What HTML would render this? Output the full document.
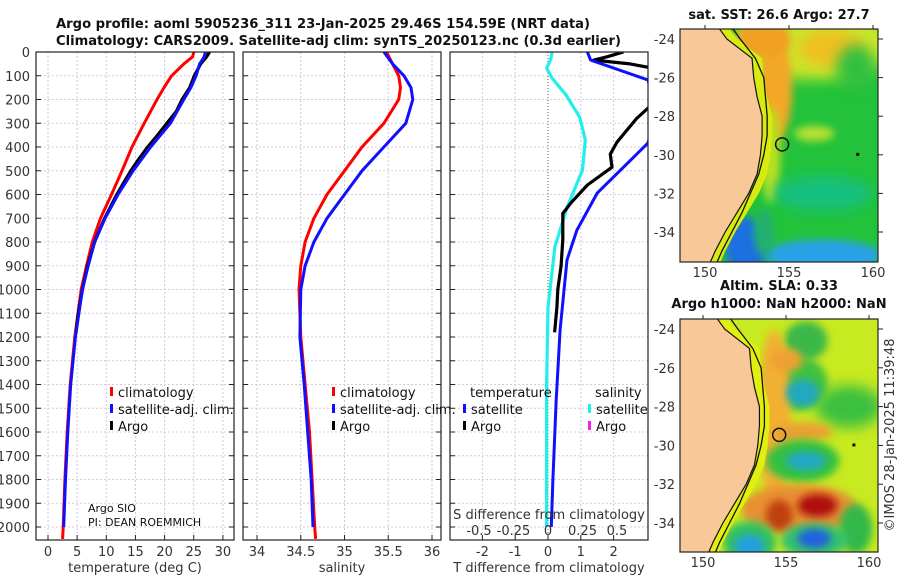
<!DOCTYPE html>
<html><head><meta charset="utf-8">
<style>
html,body{margin:0;padding:0;background:#fff;}
svg{display:block;font-family:"DejaVu Sans","Liberation Sans",sans-serif;}
.tk{font-size:13px;fill:#333;}
.ttl{font-size:13px;font-weight:bold;fill:#111;}
.lg{font-size:13px;fill:#111;}
</style></head>
<body>
<svg id="chart" width="900" height="580" viewBox="0 0 900 580">
<defs>
<filter id="blur1" x="-50%" y="-50%" width="200%" height="200%"><feGaussianBlur stdDeviation="4"/></filter>
<filter id="blur2" x="-50%" y="-50%" width="200%" height="200%"><feGaussianBlur stdDeviation="7"/></filter>
<clipPath id="clipP1"><rect x="36" y="52" width="198" height="488"/></clipPath>
<clipPath id="clipP2"><rect x="243" y="52" width="198" height="488"/></clipPath>
<clipPath id="clipP3"><rect x="450" y="52" width="198" height="488"/></clipPath>
<clipPath id="clipM1"><rect x="680" y="29" width="198" height="233"/></clipPath>
<clipPath id="clipM2"><rect x="680" y="319" width="198" height="233"/></clipPath>
</defs>
<text class="ttl" x="56" y="28" textLength="534" lengthAdjust="spacingAndGlyphs">Argo profile: aoml 5905236_311 23-Jan-2025 29.46S 154.59E (NRT data)</text>
<text class="ttl" x="56" y="45" textLength="565" lengthAdjust="spacingAndGlyphs">Climatology: CARS2009. Satellite-adj clim: synTS_20250123.nc (0.3d earlier)</text>
<g id="root"></g>
</svg>
<script>
// ---------- data ----------
const depthTicks = [0,100,200,300,400,500,600,700,800,900,1000,1100,1200,1300,1400,1500,1600,1700,1800,1900,2000];
const tempTicks = [0,5,10,15,20,25,30];
const salTicks = [34,34.5,35,35.5,36];
const salTickLabels = ["34","34.5","35","35.5","36"];
const tdiffTicks = [-2,-1,0,1,2];
const sdiffTicks = [-0.5,-0.25,0,0.25,0.5];
const sdiffTickLabels = ["-0.5","-0.25","0","0.25","0.5"];

const tClimDepth = [0,20,50,100,150,200,300,400,500,600,700,800,900,1000,1200,1400,1600,1800,2000,2050];
const tClimVal   = [25.0,24.8,23.3,21.2,19.9,18.7,16.5,14.4,12.7,10.9,9.0,7.6,6.6,5.7,4.6,3.8,3.3,2.9,2.6,2.5];
const tSatDepth  = [0,20,50,100,150,200,300,400,500,600,700,800,900,1000,1200,1400,1600,1800,2000];
const tSatVal    = [27.0,26.8,26.0,25.4,24.5,23.3,21.0,17.6,14.6,12.0,9.8,8.0,6.9,5.9,4.7,3.9,3.4,3.0,2.7];
const tArgoDepth = [0,20,50,100,150,200,250,300,350,400,450,500,550,600,700,800,900,1000,1100,1180];
const tArgoVal   = [27.7,27.2,26.2,25.1,24.3,23.0,22.0,20.4,18.8,17.1,15.6,14.2,13.0,11.8,9.7,8.0,6.8,5.9,5.2,4.8];

const sClimDepth = [0,50,100,150,200,300,400,500,600,700,800,900,1000,1200,1400,1600,1800,2000,2050];
const sClimVal   = [35.48,35.55,35.62,35.64,35.62,35.45,35.2,35.0,34.8,34.65,34.55,34.5,34.48,34.5,34.55,34.6,34.63,34.66,34.67];
const sSatDepth  = [0,50,100,150,200,300,400,500,600,700,800,900,1000,1200,1400,1600,1800,2000];
const sSatVal    = [35.45,35.55,35.68,35.76,35.78,35.7,35.45,35.2,35.0,34.8,34.65,34.55,34.5,34.49,34.54,34.58,34.62,34.64];

const dArgoDepth = [0,20,34,50,68,120,230,280,330,380,430,485,560,635,680,790,900,1000,1075,1180];
const dArgoVal   = [2.3,1.8,1.4,2.5,3.2,3.3,3.1,2.7,2.4,2.1,1.9,1.95,1.2,0.7,0.45,0.45,0.4,0.3,0.27,0.2];
const dSatDepth  = [0,34,118,250,383,594,750,876,1170,1465,1800,2000];
const dSatVal    = [1.2,1.3,3.05,3.3,3.05,1.5,0.88,0.58,0.37,0.25,0.15,0.1];
const dSalDepth  = [0,30,68,110,180,274,370,497,652,820,1075,1400,1700,2000];
const dSalVal    = [0.03,0.02,-0.01,0.03,0.13,0.23,0.27,0.25,0.14,0.05,0.0,-0.01,-0.01,-0.01];

const mapLatTicks = [-24,-26,-28,-30,-32,-34];
const mapLonTicks = [150,155,160];
const coastLat = [-23.4,-24,-25,-26,-27,-28,-29,-30,-31,-32,-33,-34,-35,-35.6];
const coastLon = [150.8,151.3,152.8,152.9,153.1,153.4,153.4,153.3,153.1,152.6,151.9,151.2,150.6,150.3];
const isoLon   = [151.6,152.1,153.0,153.5,153.6,153.7,153.7,153.5,153.2,152.7,152.2,151.6,151.0,150.7];
const argoLon = 154.59, argoLat = -29.46;

// ---------- helpers ----------
const NS="http://www.w3.org/2000/svg";
const root=document.getElementById('root');
function mk(tag,attrs,parent){const e=document.createElementNS(NS,tag);for(const k in attrs)e.setAttribute(k,attrs[k]);(parent||root).appendChild(e);return e;}
const Y0=52, PXM=0.2375;
const yD=d=>Y0+d*PXM;
const xT=v=>48+v*5.83;
const xS=v=>257+(v-34)*87.5;
const xTD=v=>548+v*32.8;
const xSD=v=>548+v*138;

function panel(x0,name,gridXs,clip,ticksRight){
  const g=mk('g',{});
  
  
  gridXs.forEach(x=>{const l=mk('line',{x1:x,x2:x,y1:52,y2:540,stroke:'#c7c9ec','stroke-width':1,'stroke-dasharray':'2,2'},g);
    });
  depthTicks.forEach(d=>{const l=mk('line',{x1:x0,x2:x0+198,y1:yD(d),y2:yD(d),stroke:'#dcc8d8','stroke-width':1,'stroke-dasharray':'2,2'},g);
    
    mk('line',{x1:x0,x2:x0+5,y1:yD(d),y2:yD(d),stroke:'#222'},g);
    if(ticksRight) mk('line',{x1:x0+193,x2:x0+198,y1:yD(d),y2:yD(d),stroke:'#222'},g);});
  return g;
}
function curve(g,depths,vals,xf,color,w,name,clip){
  const pts=depths.map((d,i)=>xf(vals[i]).toFixed(1)+','+yD(d).toFixed(1)).join(' ');
  const p=mk('polyline',{points:pts,fill:'none',stroke:color,'stroke-width':w,'stroke-linejoin':'round','clip-path':'url(#'+clip+')'},g);
  
  
}
function frame(g,x0){const r=mk('rect',{x:x0,y:52,width:198,height:488,fill:'none',stroke:'#222','stroke-width':1.2},g);
  }
function txt(g,x,y,s,cls,anchor,name,extra){const t=mk('text',Object.assign({x:x,y:y,class:cls,'text-anchor':anchor||'start'},extra||{}),g);t.textContent=s;
  return t;}
function legendRow(g,x,y,color,label,name){
  const m=mk('rect',{x:x,y:y-10,width:3,height:9,fill:color},g);
  
  txt(g,x+8,y,label,'lg','start',name);
}

// depth labels
const dl=mk('g',{});


depthTicks.forEach(d=>txt(dl,30,yD(d)+5,String(d),'tk','end','depth-tick-label'));

// Panel 1: temperature
const p1=panel(36,'temperature-panel',tempTicks.map(xT),'clipP1',true);
curve(p1,tClimDepth,tClimVal,xT,'#ff0000',3,'temp-climatology-line','clipP1');
curve(p1,tArgoDepth,tArgoVal,xT,'#000000',3.2,'temp-argo-line','clipP1');
curve(p1,tSatDepth,tSatVal,xT,'#1010ff',3,'temp-satellite-line','clipP1');
frame(p1,36);
tempTicks.forEach(v=>{txt(p1,xT(v),556,String(v),'tk','middle','temp-tick-label');mk('line',{x1:xT(v),x2:xT(v),y1:540,y2:535,stroke:'#222'},p1);});
txt(p1,135,572,'temperature (deg C)','tk','middle','x-axis-title-temperature');
legendRow(p1,110,397,'#ff0000','climatology','legend-climatology');
legendRow(p1,110,414,'#1010ff','satellite-adj. clim.','legend-satellite-adj');
legendRow(p1,110,431,'#000','Argo','legend-argo');
txt(p1,88,512,'Argo SIO','lg','start','argo-institution',{style:'font-size:11px'});
txt(p1,88,526,'PI: DEAN ROEMMICH','lg','start','argo-pi',{style:'font-size:11px'});

// Panel 2: salinity
const p2=panel(243,'salinity-panel',salTicks.map(xS),'clipP2',true);
curve(p2,sClimDepth,sClimVal,xS,'#ff0000',3,'sal-climatology-line','clipP2');
curve(p2,sSatDepth,sSatVal,xS,'#1010ff',3,'sal-satellite-line','clipP2');
frame(p2,243);
salTicks.forEach((v,i)=>{txt(p2,xS(v),556,salTickLabels[i],'tk','middle','sal-tick-label');mk('line',{x1:xS(v),x2:xS(v),y1:540,y2:535,stroke:'#222'},p2);});
txt(p2,342,572,'salinity','tk','middle','x-axis-title-salinity');
legendRow(p2,332,397,'#ff0000','climatology','legend-climatology');
legendRow(p2,332,414,'#1010ff','satellite-adj. clim.','legend-satellite-adj');
legendRow(p2,332,431,'#000','Argo','legend-argo');

// Panel 3: differences
const p3=panel(450,'difference-panel',tdiffTicks.filter(v=>v!==0).map(xTD),'clipP3',false);
const zl=mk('line',{x1:xTD(0),x2:xTD(0),y1:52,y2:540,stroke:'#556b2f','stroke-width':1,'stroke-dasharray':'1,2'},p3);

curve(p3,dSalDepth,dSalVal,xSD,'#22eeee',3.2,'sdiff-satellite-line','clipP3');
curve(p3,dArgoDepth,dArgoVal,xTD,'#000',3.2,'tdiff-argo-line','clipP3');
curve(p3,dSatDepth,dSatVal,xTD,'#1010ff',3,'tdiff-satellite-line','clipP3');
frame(p3,450);
tdiffTicks.forEach(v=>{txt(p3,xTD(v),556,String(v),'tk','middle','tdiff-tick-label');mk('line',{x1:xTD(v),x2:xTD(v),y1:540,y2:535,stroke:'#222'},p3);});
txt(p3,549,572,'T difference from climatology','tk','middle','x-axis-title-tdiff');
txt(p3,549,519,'S difference from climatology','tk','middle','x-axis-title-sdiff');
sdiffTicks.forEach((v,i)=>txt(p3,xSD(v),535,sdiffTickLabels[i],'tk','middle','sdiff-tick-label'));
txt(p3,470,397,'temperature','lg','start','legend-temperature-header');
legendRow(p3,463,414,'#1010ff','satellite','legend-temp-satellite');
legendRow(p3,463,431,'#000','Argo','legend-temp-argo');
txt(p3,595,397,'salinity','lg','start','legend-salinity-header');
legendRow(p3,588,414,'#22eeee','satellite','legend-sal-satellite');
legendRow(p3,588,431,'#ee22ee','Argo','legend-sal-argo');

// ---------- maps ----------
function map(top,latTop,xl,k,yl,kl,clip,name,title1,title2,fieldFn,stripColor){
  const X=lon=>xl+(lon-150)*k, Y=lat=>yl+(-24-lat)*kl;
  const g=mk('g',{});
  
  
  const f=mk('g',{'clip-path':'url(#'+clip+')'},g);
  fieldFn(f,X,Y);
  // coastal strip between coast and isobath
  let sp=coastLon.map((lo,i)=>X(lo+0.6)+','+Y(coastLat[i])).join(' ')+' '+coastLon.slice().reverse().map((lo,i)=>X(lo)+','+Y(coastLat[coastLat.length-1-i])).join(' ');
  const strip=mk('polygon',{points:sp,fill:stripColor},f);
  
  // land
  let pts=coastLon.map((lo,i)=>X(lo)+','+Y(coastLat[i])).join(' ');
  pts+=' '+X(140)+','+Y(-36)+' '+X(140)+','+Y(-23);
  const land=mk('polygon',{points:pts,fill:'#f8c899',stroke:'#111','stroke-width':1.2},f);
  
  const iso=mk('polyline',{points:isoLon.map((lo,i)=>X(lo)+','+Y(coastLat[i])).join(' '),fill:'none',stroke:'#111','stroke-width':1.3},f);
  
  const c=mk('circle',{cx:X(argoLon),cy:Y(argoLat),r:6.5,fill:'none',stroke:'#111','stroke-width':1.5},f);
  
  mk('rect',{x:X(159),y:Y(-29.9),width:3,height:3,fill:'#111'},f);
  const fr=mk('rect',{x:680,y:top,width:198,height:233,fill:'none',stroke:'#222','stroke-width':1.2},g);
  
  mapLatTicks.forEach(v=>{txt(g,675,Y(v)+5,String(v),'tk','end','lat-tick-label');
    mk('line',{x1:878,x2:883,y1:Y(v),y2:Y(v),stroke:'#222'},g);});
  mapLonTicks.forEach(v=>{txt(g,X(v),top+233+15,String(v),'tk','middle','lon-tick-label');
    mk('line',{x1:X(v),x2:X(v),y1:top,y2:top-4,stroke:'#222'},g);});
  txt(g,779,top-(title2?29:10),title1,'ttl','middle','map-title');
  if(title2) txt(g,779,top-11,title2,'ttl','middle','map-subtitle');
}
function blob(g,X,Y,lon,lat,rx,ry,col,filt){
  const e=mk('ellipse',{cx:X(lon),cy:Y(lat),rx:rx*16.7,ry:ry*19.3,fill:col,filter:'url(#'+filt+')'},g);
  
}
map(29,-23.48,705,16.8,39,19.3,'clipM1','sst-map','sat. SST: 26.6 Argo: 27.7',null,(f,X,Y)=>{
  mk('rect',{x:680,y:29,width:198,height:233,fill:'#22c23a'},f);
  blob(f,X,Y,156.5,-24.3,5,1.8,'#c8e82a','blur2');
  blob(f,X,Y,157.5,-24.5,2,1.0,'#f0c020','blur2');
  blob(f,X,Y,159,-25.5,1.2,1.2,'#33c040','blur2');
  blob(f,X,Y,154.2,-26.5,1.0,2.8,'#f2a825','blur1');
  blob(f,X,Y,153.5,-24,1.6,1,'#f0a020','blur1');
  blob(f,X,Y,153.9,-30,0.6,2.5,'#b8e020','blur1');
  blob(f,X,Y,156.5,-28.9,1.2,0.4,'#b8e030','blur1');
  blob(f,X,Y,157,-32,3,0.9,'#18c080','blur2');
  blob(f,X,Y,157,-35.2,3.5,0.8,'#2aa0e8','blur1');
  blob(f,X,Y,152.4,-34.8,1.2,1.6,'#1a70e0','blur1');
  blob(f,X,Y,153.5,-34,0.6,1.2,'#20b070','blur1');
},'#d8ea10');
map(319,-23.5,703,16.6,329,19.4,'clipM2','sla-map','Altim. SLA: 0.33','Argo h1000: NaN h2000: NaN',(f,X,Y)=>{
  mk('rect',{x:680,y:319,width:198,height:233,fill:'#c8ea20'},f);
  blob(f,X,Y,158.8,-28,2,1.1,'#3ac040','blur2');
  blob(f,X,Y,155.7,-26.8,1.8,1.4,'#40c040','blur1');
  blob(f,X,Y,156.2,-24.6,1.3,1,'#3ab84a','blur1');
  blob(f,X,Y,154.3,-28.5,1,4.5,'#f2b030','blur1');
  blob(f,X,Y,155,-25.6,1,0.6,'#f0a030','blur1');
  blob(f,X,Y,156,-29.3,1.8,0.5,'#eaa030','blur1');
  blob(f,X,Y,156,-30.8,2.2,1.1,'#36c040','blur1');
  blob(f,X,Y,155.8,-33.3,3.5,1.3,'#e89030','blur1');
  blob(f,X,Y,156.9,-33.1,1.2,0.6,'#b01008','blur1');
  blob(f,X,Y,154.6,-33.6,0.8,0.8,'#c04010','blur1');
  blob(f,X,Y,159.2,-34.3,1,1.3,'#30b848','blur1');
  blob(f,X,Y,156.7,-34.9,2,0.9,'#30c070','blur1');
  blob(f,X,Y,152.8,-35,1.6,1.1,'#30c060','blur1');
  blob(f,X,Y,156,-27.3,1,0.7,'#20a8c0','blur1');
  blob(f,X,Y,156.2,-30.8,1.2,0.5,'#20a8c8','blur1');
  blob(f,X,Y,156.7,-34.8,1,0.5,'#2060e0','blur1');
  blob(f,X,Y,152.8,-35.2,0.9,0.6,'#20a0e0','blur1');
},'#e0ee10');
const cp=txt(root,0,0,'©IMOS 28-Jan-2025 11:39:48','tk','middle','copyright-timestamp',{transform:'translate(894,435) rotate(-90)'});
</script>
</body></html>
